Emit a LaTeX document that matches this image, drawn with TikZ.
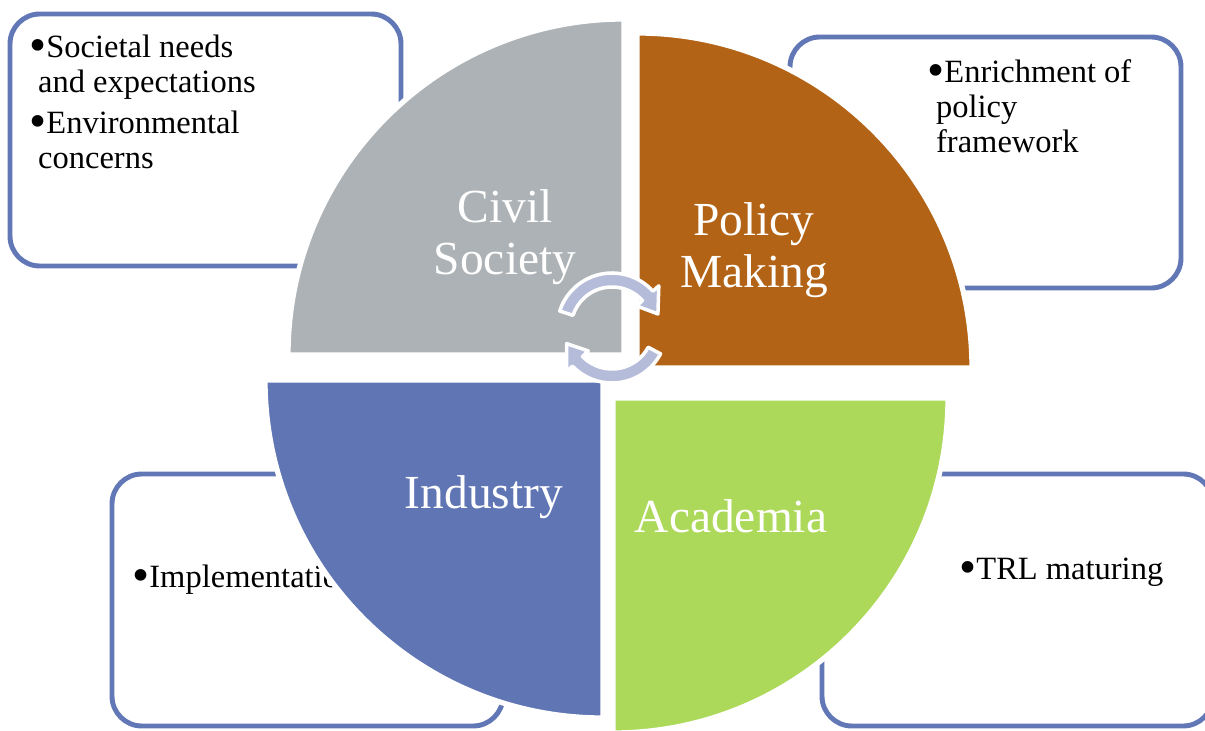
\documentclass[tikz,border=0pt]{standalone}
\usepackage{fontspec}
\setmainfont{Liberation Serif}
\usepackage{tikz}
\usetikzlibrary{positioning}

\definecolor{civilgrey}{RGB}{172,178,181}
\definecolor{policyorange}{RGB}{179,99,22}
\definecolor{industryblue}{RGB}{96,118,180}
\definecolor{academiagreen}{RGB}{173,217,90}
\definecolor{arrowlilac}{RGB}{180,188,218}
\definecolor{boxblue}{RGB}{98,120,182}

% A slightly heavier bullet for the lists.
\newcommand{\bul}{\raisebox{-2.2pt}{\scalebox{1.5}{\textbullet}}}

% One arrow of the cycle: start angle, head base angle, tip angle.
\newcommand{\cyclearrow}[3]{%
  \filldraw[arrowband] (#1:55) arc[start angle=#1, end angle=#2, radius=55]
    -- (#2:63) -- (#3:48) -- (#2:33) -- (#2:41)
    arc[start angle=#2, end angle=#1, radius=41] -- cycle;}

\begin{document}
\begin{tikzpicture}[x=0.02cm, y=0.02cm,
    infobox/.style={draw=boxblue, fill=white, line width=2.8pt, rounded corners=17pt},
    boxtext/.style={inner sep=0pt, align=left, text=black,
      font=\fontsize{18.5}{20}\selectfont},
    sector/.style={draw=white, line width=3pt},
    sectorlabel/.style={inner sep=0pt, align=center, text=white,
      font=\fontsize{27}{29.5}\selectfont},
    arrowband/.style={fill=arrowlilac, draw=white, line width=2pt, line join=round}]

      \useasboundingbox (0,0) rectangle (1205,731);

      % Draw the text boxes behind the circle.
      \draw[infobox] (10,465) rectangle (401,717);   % Civil society
      \draw[infobox] (790,443) rectangle (1181,694); % Policy making
      \draw[infobox] (112,5) rectangle (503,257);    % Industry
      \draw[infobox] (822,5) rectangle (1213,257);   % Academia

      % Bullet points in the boxes (base is the last line).
      \node[boxtext, anchor=base west] (civiltxt) at (29,562)
        {\bul Societal needs\\\hspace*{5pt}and expectations\\[3.5pt]%
         \bul Environmental\\\hspace*{5pt}concerns};
      \node[boxtext, anchor=base west] (policytxt) at (927,578)
        {\bul Enrichment of\\\hspace*{5pt}policy\\\hspace*{5pt}framework};
      \node[boxtext, anchor=base west] (industrytxt) at (132,143)
        {\bul Implementation};
      \node[boxtext, anchor=base west] (academiatxt) at (959,151)
        {\bul TRL maturing};

      % Draw the four quarters of the circle.
      \filldraw[sector, fill=civilgrey] (624,376) -- ++(0,336)
        arc[start angle=90, end angle=180, radius=336] -- cycle;
      \filldraw[sector, fill=policyorange] (637,363) -- ++(335,0)
        arc[start angle=0, end angle=90, radius=335] -- cycle;
      \filldraw[sector, fill=industryblue] (603,351) -- ++(-338,0)
        arc[start angle=180, end angle=270, radius=338] -- cycle;
      \filldraw[sector, fill=academiagreen] (613,333) -- ++(0,-335)
        arc[start angle=270, end angle=360, radius=335] -- cycle;

      % Names of the quarters.
      \node[sectorlabel] (civil) at (505,494) {Civil\\Society};
      \node[sectorlabel] (policy) at (754,481) {Policy\\Making};
      \node[sectorlabel] (industry) at (484,234) {Industry};
      \node[sectorlabel] (academia) at (731,215) {Academia};

      % Draw the two cycle arrows in the middle.
      \begin{scope}[shift={(612,403)}]
        \cyclearrow{162}{42}{17}
        \cyclearrow{-28}{-136}{-161}
      \end{scope}
    \end{tikzpicture}
\end{document}
